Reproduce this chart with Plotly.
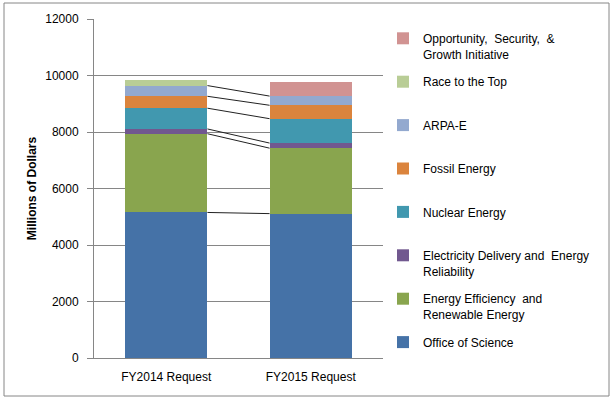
import plotly.graph_objects as go

categories = ["FY2014 Request", "FY2015 Request"]
series_names = [
    "Office of Science",
    "Energy Efficiency\u00a0 and<br>Renewable Energy",
    "Electricity Delivery and\u00a0 Energy<br>Reliability",
    "Nuclear Energy",
    "Fossil Energy",
    "ARPA-E",
    "Race to the Top",
    "Opportunity,\u00a0 Security,\u00a0 &<br>Growth Initiative",
]
office_of_science = [5152, 5111]
energy_efficiency = [2787, 2317]
electricity_delivery = [169, 180]
nuclear_energy = [735, 863]
fossil_energy = [421, 475]
arpa_e = [379, 325]
race_to_the_top = [200, 0]
opportunity_growth = [0, 496]

series_values = [office_of_science, energy_efficiency, electricity_delivery,
                 nuclear_energy, fossil_energy, arpa_e, race_to_the_top,
                 opportunity_growth]
colors = ["#4572A7", "#89A54E", "#71588F", "#4198AF", "#DB843D",
          "#93A9CF", "#B9CD96", "#D19392"]
# series that get connector lines between bars
connected = 6

W, H = 615, 399
L, R, T, B = 94, 232, 19, 41
pw, ph = W - L - R, H - T - B
bar_w = 0.57
xs = [0, 1]

fig = go.Figure()
n = len(series_names)
for i, (name, vals, col) in enumerate(zip(series_names, series_values, colors)):
    label = name if "<br>" in name else name + "<br>\u00a0"
    fig.add_trace(go.Bar(x=xs, y=vals, name=label, marker_color=col,
                         marker_line_width=0, width=bar_w,
                         legendgroup="g%d" % i, legendrank=100 + n - i))

# series lines connecting segment tops
cum = [0, 0]
for i in range(connected):
    cum = [cum[k] + series_values[i][k] for k in range(2)]
    fig.add_trace(go.Scatter(x=[xs[0] + bar_w / 2, xs[1] - bar_w / 2], y=cum,
                             mode="lines", line=dict(color="#222222", width=1),
                             showlegend=False, hoverinfo="skip",
                             legendgroup="lines", legendrank=2000))

def px_x(p):
    return (p - L) / pw

def px_y(p):
    return (H - B - p) / ph

fig.update_layout(
    width=W, height=H,
    margin=dict(l=L, r=R, t=T, b=B),
    barmode="stack",
    plot_bgcolor="white", paper_bgcolor="white",
    font=dict(family="Liberation Sans, Arial, sans-serif", size=12, color="#000000"),
    showlegend=True,
    legend=dict(x=px_x(383), y=px_y(24), xanchor="left", yanchor="top",
                traceorder="grouped", tracegroupgap=9.2, valign="top",
                font=dict(size=12), itemwidth=30, bgcolor="rgba(0,0,0,0)",
                maxheight=395),
    xaxis=dict(range=[-0.5, 1.5], tickvals=xs, ticktext=categories,
               showgrid=False, zeroline=False, showline=True,
               linecolor="#868686", linewidth=1, ticks="", fixedrange=True,
               ticklabelstandoff=8),
    yaxis=dict(range=[0, 12000], dtick=2000, tickformat="d", showgrid=True,
               gridcolor="#868686", gridwidth=1, zeroline=False,
               showline=True, linecolor="#868686", linewidth=1,
               ticks="outside", ticklen=6, tickcolor="#868686",
               ticklabelstandoff=6, fixedrange=True,
               title=dict(text="<b>Millions of Dollars</b>", standoff=6,
                          font=dict(size=12))),
    shapes=[dict(type="rect", xref="paper", yref="paper",
                 x0=px_x(4), x1=px_x(609), y0=px_y(396), y1=px_y(3),
                 line=dict(color="#868686", width=1), layer="below")],
)

fig.write_html("out.html", config={"displayModeBar": False},
               post_script="document.body.style.margin='0';document.body.style.overflow='hidden';")
